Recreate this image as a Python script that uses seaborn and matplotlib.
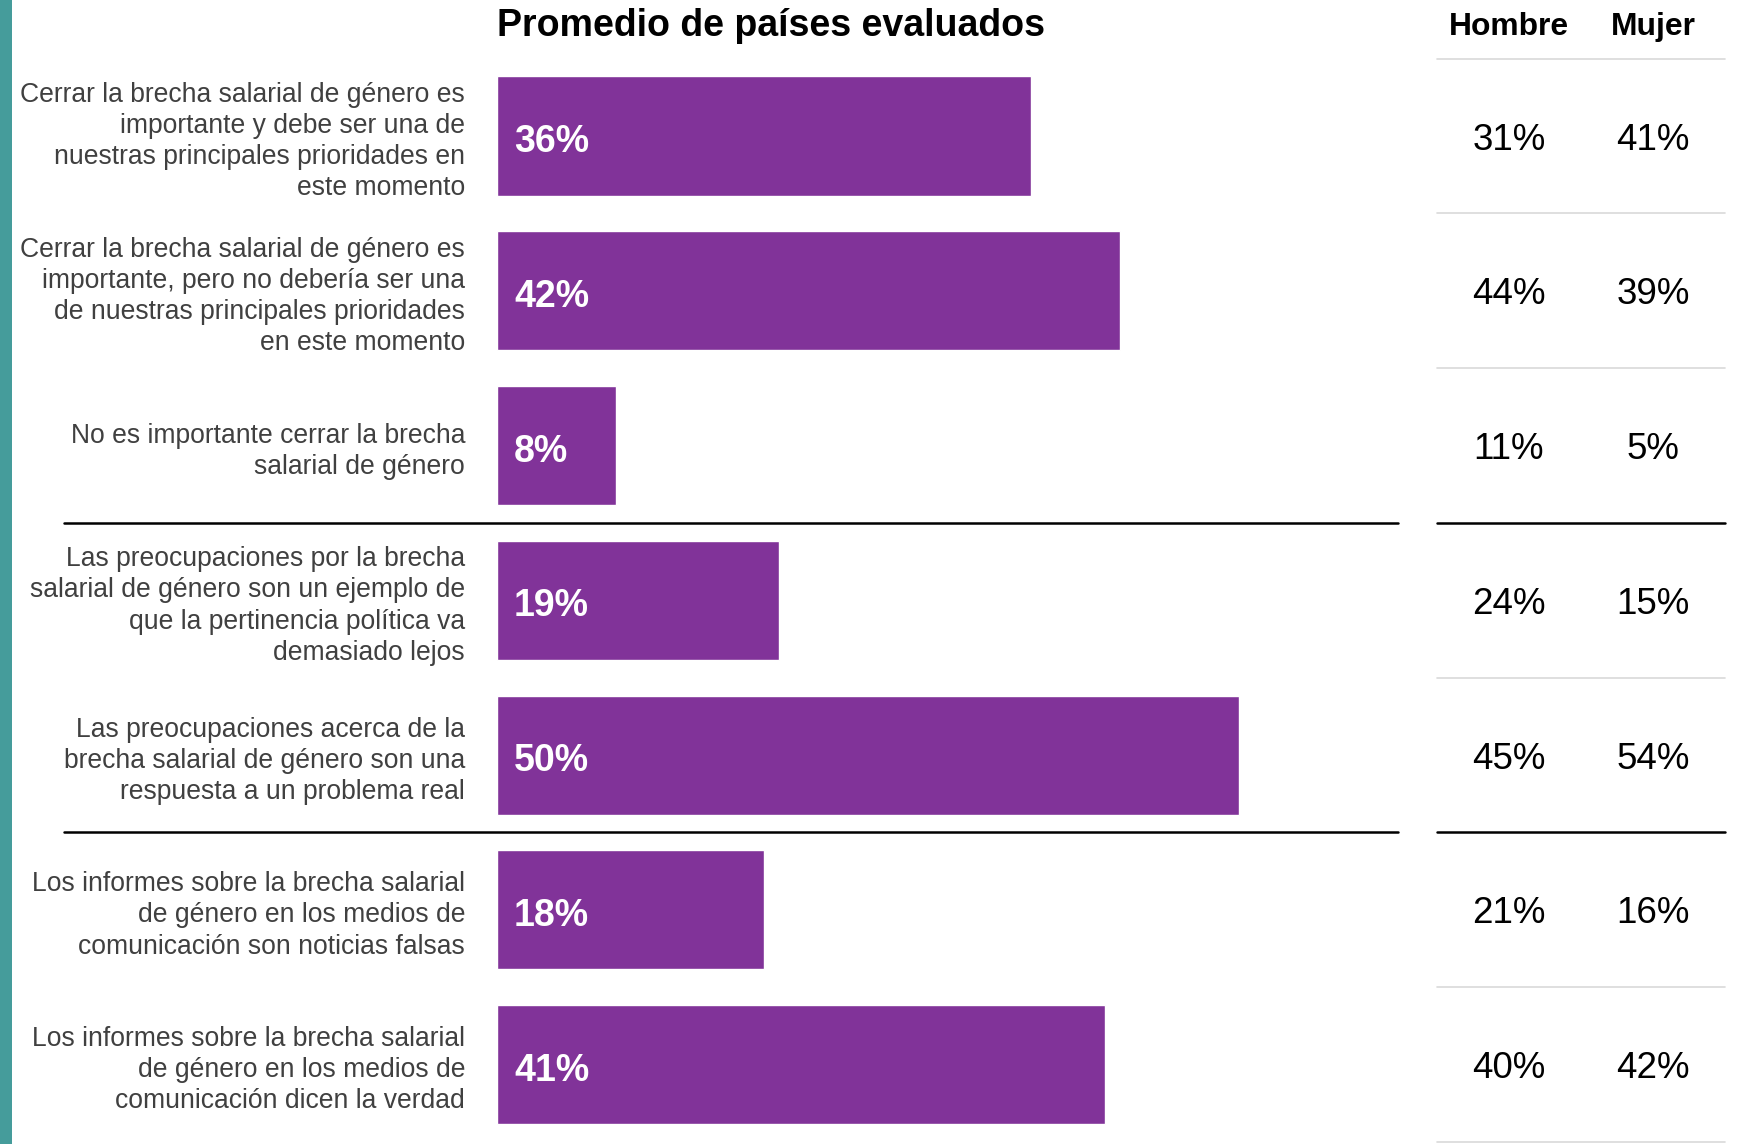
import numpy as np
import pandas as pd
import matplotlib
matplotlib.use("Agg")
import matplotlib.pyplot as plt
import matplotlib.transforms as mtransforms
from matplotlib.colors import ListedColormap
from matplotlib.lines import Line2D
from matplotlib.patches import Rectangle
import seaborn as sns

# datos
statements = [
    "Cerrar la brecha salarial de género es\nimportante y debe ser una de\nnuestras principales prioridades en\neste momento",
    "Cerrar la brecha salarial de género es\nimportante, pero no debería ser una\nde nuestras principales prioridades\nen este momento",
    "No es importante cerrar la brecha\nsalarial de género",
    "Las preocupaciones por la brecha\nsalarial de género son un ejemplo de\nque la pertinencia política va\ndemasiado lejos",
    "Las preocupaciones acerca de la\nbrecha salarial de género son una\nrespuesta a un problema real",
    "Los informes sobre la brecha salarial\nde género en los medios de\ncomunicación son noticias falsas",
    "Los informes sobre la brecha salarial\nde género en los medios de\ncomunicación dicen la verdad",
]
promedio = [36, 42, 8, 19, 50, 18, 41]
hombre = [31, 44, 11, 24, 45, 21, 40]
mujer = [41, 39, 5, 15, 54, 16, 42]
columnas = ["Hombre", "Mujer"]
group_breaks = [3, 5]  # linea negra despues de estas filas

titulo = "Promedio de países evaluados"
purple = "#813399"
teal = "#459C9B"

df = pd.DataFrame({"statement": statements, "promedio": promedio})
tabla = np.array([hombre, mujer]).T
tabla_txt = np.array([[f"{v}%" for v in fila] for fila in tabla])

sns.set_style("white")
plt.rcParams["font.family"] = ["Liberation Sans", "DejaVu Sans"]

W, H = 1737, 1144
fig = plt.figure(figsize=(W / 100, H / 100), dpi=100)

top_px, bot_px = 58.7, 1142
ax = fig.add_axes([497 / W, 1 - bot_px / H, 901 / W, (bot_px - top_px) / H])
ax2 = fig.add_axes([1437 / W, 1 - bot_px / H, 288 / W, (bot_px - top_px) / H])

# barras principales
sns.barplot(data=df, x="promedio", y="statement", color=purple, saturation=1,
            width=0.77, ax=ax)
ax.set_xlim(0, 60.75)
ax.set_ylim(6.5, -0.5)
sns.despine(ax=ax, left=True, bottom=True)
ax.set_xticks([])
ax.set_xlabel("")
ax.set_ylabel("")
ax.set_yticks(range(len(statements)))
ax.set_yticklabels(statements, fontsize=19.1, color="#404040", linespacing=1.26)
ax.tick_params(axis="y", length=0, pad=23)

for patch, v in zip(ax.patches, promedio):
    ax.annotate(f"{v}%", xy=(patch.get_x(), patch.get_y() + patch.get_height() / 2),
                xytext=(17, -2), textcoords="offset pixels", color="white",
                fontsize=27, fontweight="bold", va="center_baseline", ha="left")

ax.set_title(titulo, loc="left", fontsize=27, fontweight="bold", pad=16, color="black")

# tabla hombre / mujer
sns.heatmap(tabla, annot=tabla_txt, fmt="", cmap=ListedColormap(["white"]), cbar=False,
            xticklabels=columnas, yticklabels=False, ax=ax2,
            annot_kws=dict(fontsize=26.5, color="black", va="center_baseline"))
ax2.xaxis.tick_top()
ax2.tick_params(axis="x", length=0, pad=12, labelsize=22.9, labelcolor="black")
for t in ax2.get_xticklabels():
    t.set_fontweight("bold")
for i in range(len(statements) + 1):
    if i in group_breaks:
        ax2.axhline(i, color="black", lw=1.8, clip_on=False)
    else:
        ax2.axhline(i, color="#d9d9d9", lw=1.2, clip_on=False)

# separadores negros a la izquierda
trans = mtransforms.blended_transform_factory(fig.transFigure, ax.transData)
for b in group_breaks:
    fig.add_artist(Line2D([64 / W, 1398 / W], [b - 0.5, b - 0.5], transform=trans,
                          color="black", lw=1.8))

# franja de color a la izquierda
fig.add_artist(Rectangle((0, 0), 12 / W, 1, transform=fig.transFigure, color=teal, lw=0))

fig.savefig("out.png", dpi=100)
